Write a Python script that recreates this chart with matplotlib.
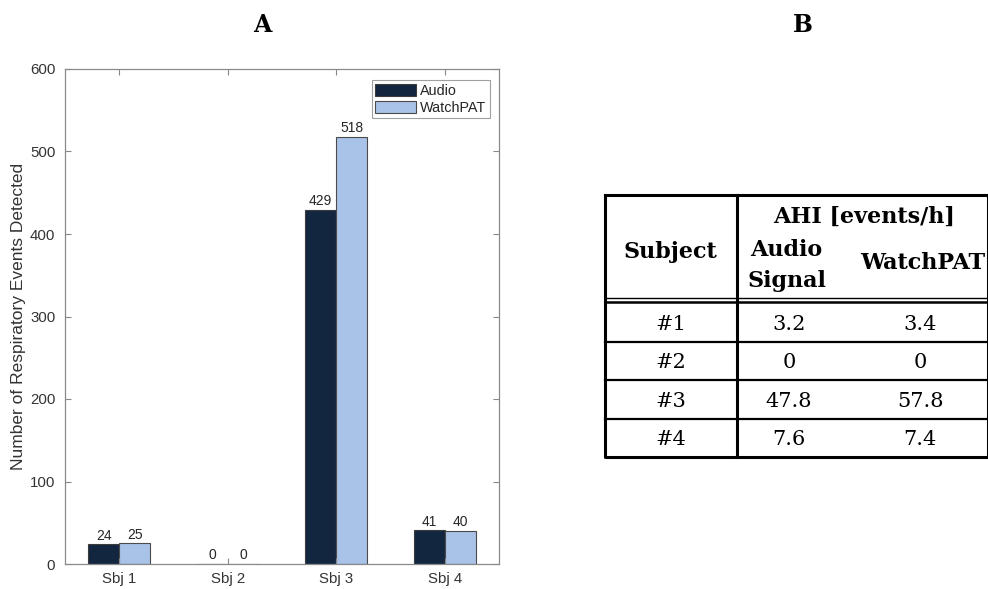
import numpy as np
import matplotlib
matplotlib.use("Agg")
import matplotlib.pyplot as plt

# panel A data
subjects = ["Sbj 1", "Sbj 2", "Sbj 3", "Sbj 4"]
audio = [24, 0, 429, 41]
watchpat = [25, 0, 518, 40]

# panel B table data
tbl_subjects = ["#1", "#2", "#3", "#4"]
ahi_audio = ["3.2", "0", "47.8", "7.6"]
ahi_watchpat = ["3.4", "0", "57.8", "7.4"]

W, H = 988, 589
fig = plt.figure(figsize=(W / 100, H / 100), dpi=100)

def px_axes(x0, y0, x1, y1):
    # pixel box (top-left origin) -> figure fraction
    return fig.add_axes([x0 / W, 1 - y1 / H, (x1 - x0) / W, (y1 - y0) / H])

# ---------------- panel A ----------------
ax = px_axes(65, 69, 499, 564)
x = np.arange(1, len(subjects) + 1)
bw = 0.286
c_audio = "#132640"
c_watch = "#a9c2e8"
b1 = ax.bar(x - bw / 2, audio, bw, color=c_audio, edgecolor="#3c3c3c", lw=0.8, label="Audio")
b2 = ax.bar(x + bw / 2, watchpat, bw, color=c_watch, edgecolor="#4a4a4a", lw=0.8, label="WatchPAT")
for bars, vals in ((b1, audio), (b2, watchpat)):
    for r, v in zip(bars, vals):
        ax.text(r.get_x() + r.get_width() / 2, v + 2, str(v), ha="center", va="bottom",
                fontsize=10, color="#262626", family="Liberation Sans")

ax.set_xlim(0.5, 4.5)
ax.set_ylim(0, 600)
ax.set_xticks(x)
ax.set_xticklabels(subjects)
ax.set_yticks(np.arange(0, 601, 100))
ax.tick_params(direction="in", top=True, right=True, length=4, width=0.8,
               colors="#888888", labelcolor="#333333", labelsize=10.8)
ax.tick_params(axis="y", pad=7)
ax.tick_params(axis="x", pad=6)
for lab in ax.get_xticklabels() + ax.get_yticklabels():
    lab.set_family("Liberation Sans")
for s in ax.spines.values():
    s.set_color("#8a8a8a")
    s.set_linewidth(0.9)
ax.set_ylabel("Number of Respiratory Events Detected", fontsize=12.5, color="#333333",
              family="Liberation Sans", labelpad=3)

leg = ax.legend(loc="upper right", bbox_to_anchor=(0.979, 0.978), borderaxespad=0,
                frameon=True, fancybox=False,
                handlelength=2.85, handleheight=0.95, handletextpad=0.25,
                borderpad=0.25, labelspacing=0.2,
                prop={"family": "Liberation Sans", "size": 10.4})
leg.get_frame().set_edgecolor("#888888")
leg.get_frame().set_linewidth(0.8)
for t in leg.get_texts():
    t.set_color("#262626")

fig.text(262 / W, 1 - 25 / H, "A", ha="center", va="center", fontsize=17,
         fontweight="bold", family="DejaVu Serif")
fig.text(803 / W, 1 - 25 / H, "B", ha="center", va="center", fontsize=17,
         fontweight="bold", family="DejaVu Serif")

# ---------------- panel B (table) ----------------
tx0, ty0, tx1, ty1 = 605, 195, 988, 457
tax = px_axes(tx0, ty0, tx1, ty1)
tax.set_xlim(tx0, tx1)
tax.set_ylim(ty1, ty0)
tax.axis("off")

col_div = 737
col2 = 789
col3 = 920
header_bot = 303
row_h = (ty1 - header_bot) / len(tbl_subjects)
lk = dict(color="black", clip_on=False, solid_capstyle="projecting")

# outer frame
tax.plot([tx0, tx1, tx1, tx0, tx0], [ty0, ty0, ty1, ty1, ty0], lw=2.2, **lk)
tax.plot([col_div, col_div], [ty0, ty1], lw=2.2, **lk)
# double line under header
tax.plot([tx0, tx1], [header_bot - 5.5, header_bot - 5.5], lw=1.0, **lk)
tax.plot([tx0, tx1], [header_bot - 1, header_bot - 1], lw=1.8, **lk)
for i in range(1, len(tbl_subjects)):
    yy = header_bot + i * row_h
    tax.plot([tx0, tx1], [yy, yy], lw=1.6, **lk)

hf = dict(family="DejaVu Serif", fontweight="bold", fontsize=16, ha="center", va="center")
tax.text((tx0 + col_div) / 2 - 1, 252, "Subject", **hf)
tax.text(864, 217, "AHI [events/h]", **hf)
tax.text(786, 250, "Audio", **hf)
tax.text(787, 281, "Signal", **hf)
tax.text(923, 263, "WatchPAT", **hf)

bf = dict(family="DejaVu Serif", fontsize=15, ha="center", va="center")
for i, (s, a, w) in enumerate(zip(tbl_subjects, ahi_audio, ahi_watchpat)):
    yc = header_bot + (i + 0.5) * row_h + 2
    tax.text(671, yc, s, **bf)
    tax.text(col2, yc, a, **bf)
    tax.text(col3, yc, w, **bf)

fig.savefig("out.png", dpi=100)
